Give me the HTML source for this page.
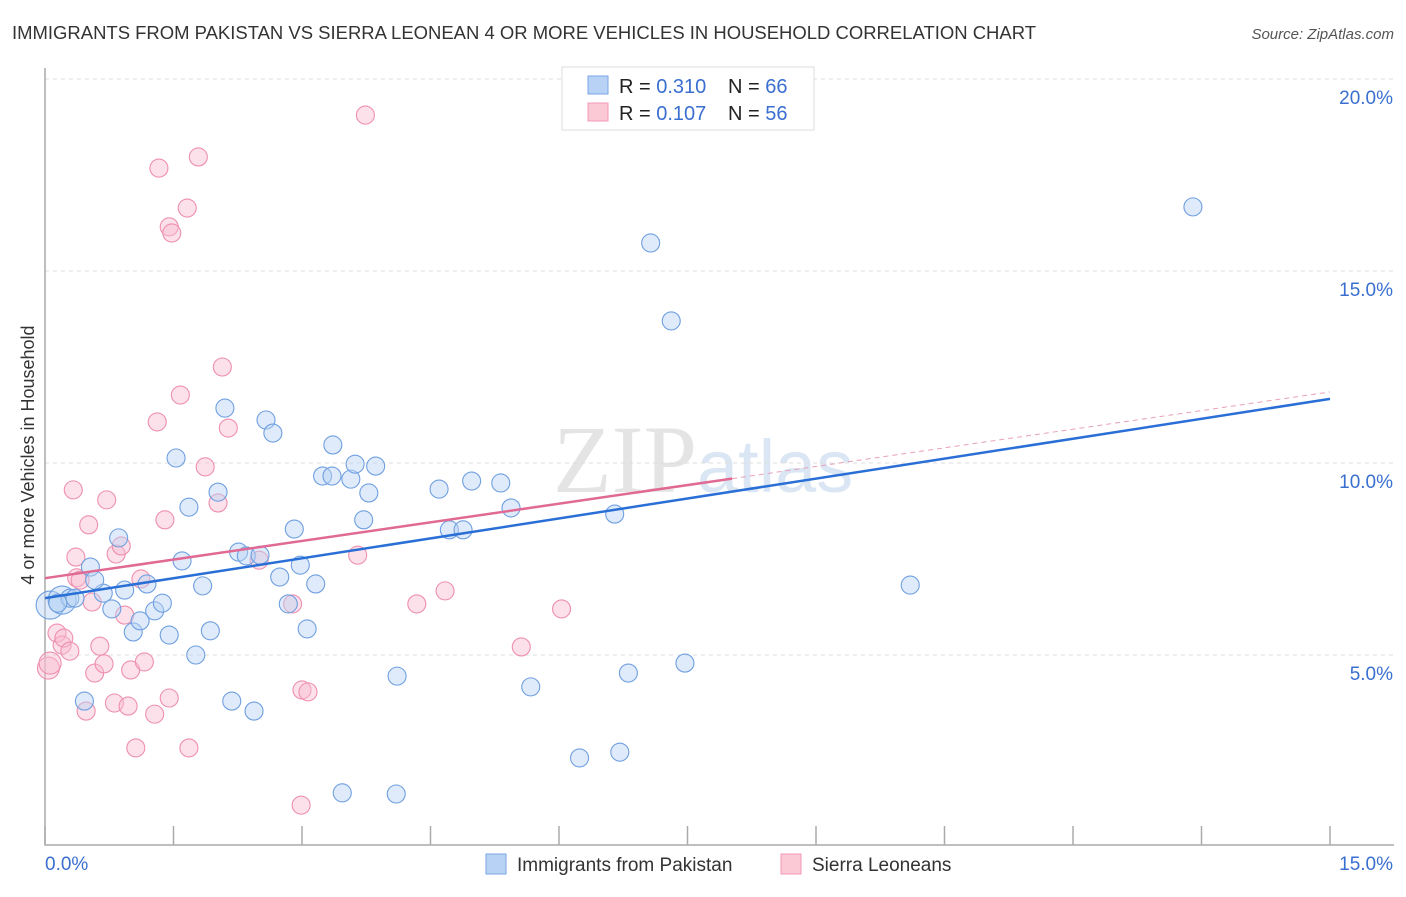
<!DOCTYPE html>
<html><head><meta charset="utf-8"><style>
body{margin:0;background:#fff;font-family:"Liberation Sans",sans-serif}
</style></head><body>
<svg id="chart" width="1406" height="892" xmlns="http://www.w3.org/2000/svg" font-family="Liberation Sans, sans-serif">
<text x="12" y="39" font-size="18" fill="#333" textLength="1024" lengthAdjust="spacingAndGlyphs">IMMIGRANTS FROM PAKISTAN VS SIERRA LEONEAN 4 OR MORE VEHICLES IN HOUSEHOLD CORRELATION CHART</text>
<text x="1394" y="39" font-size="15" fill="#555" text-anchor="end" font-style="italic">Source: ZipAtlas.com</text>
<text x="553" y="492" font-size="96" fill="#e4e4e4" font-family="Liberation Serif, serif">ZIP<tspan fill="#dbe6f4" font-family="Liberation Sans, sans-serif" font-size="74">atlas</tspan></text>
<text transform="translate(34,455) rotate(-90)" font-size="18" fill="#333" text-anchor="middle">4 or more Vehicles in Household</text>
<g id="grid"></g><g id="axes"></g><g id="pts"></g><g id="lines"></g>
<g>
<rect x="562" y="67" width="252" height="63" fill="#fff" stroke="#ddd"/>
<rect x="588" y="76" width="20" height="18" fill="#b8d2f5" stroke="#7aa6e6"/>
<rect x="588" y="103" width="20" height="18" fill="#fbc8d6" stroke="#f09ab5"/>
<text x="619" y="93" font-size="20" fill="#222">R = <tspan fill="#3a6fd0">0.310</tspan></text>
<text x="728" y="93" font-size="20" fill="#222">N = <tspan fill="#3a6fd0">66</tspan></text>
<text x="619" y="120" font-size="20" fill="#222">R = <tspan fill="#3a6fd0">0.107</tspan></text>
<text x="728" y="120" font-size="20" fill="#222">N = <tspan fill="#3a6fd0">56</tspan></text>
</g>
<g>
<rect x="486" y="854" width="20" height="20" fill="#b8d2f5" stroke="#7aa6e6"/>
<text x="517" y="871" font-size="19" fill="#333">Immigrants from Pakistan</text>
<rect x="781" y="854" width="20" height="20" fill="#fbc8d6" stroke="#f09ab5"/>
<text x="812" y="871" font-size="19" fill="#333">Sierra Leoneans</text>
</g>
</svg>
<script>
const xTicks=[0,1.5,3,4.5,6,7.5,9,10.5,12,13.5,15];
const yTicks=[5,10,15,20];
const blueX=[0.06,0.20,0.29,0.46,0.53,0.68,0.78,0.86,0.93,1.03,1.11,1.19,1.28,1.37,1.45,1.53,1.60,1.68,1.76,1.84,1.93,2.02,2.10,2.18,2.26,2.35,2.44,2.51,2.58,2.66,2.74,2.84,2.91,2.98,3.06,3.16,3.24,3.35,3.36,3.47,3.57,3.62,3.72,3.78,3.86,4.10,4.11,4.60,4.72,4.88,4.98,5.32,5.44,5.67,6.24,6.65,6.71,6.81,7.07,7.31,7.47,10.10,13.40,0.35,0.15,0.58];
const blueY=[6.30,6.43,6.48,3.80,7.29,6.61,6.20,8.05,6.69,5.60,5.89,6.85,6.15,6.35,5.52,10.13,7.45,8.85,5.00,6.80,5.63,9.24,11.43,3.80,7.68,7.58,3.54,7.60,11.12,10.78,7.03,6.33,8.28,7.34,5.68,6.85,9.66,9.66,10.47,1.41,9.58,9.97,8.52,9.22,9.92,1.38,4.45,9.32,8.26,8.26,9.53,9.48,8.83,4.17,2.32,8.67,2.47,4.53,15.73,13.70,4.79,6.82,16.67,6.48,6.35,6.95];
const pinkX=[0.04,0.06,0.14,0.20,0.22,0.29,0.33,0.36,0.37,0.41,0.48,0.51,0.55,0.58,0.64,0.69,0.72,0.81,0.83,0.89,0.93,0.97,1.00,1.06,1.12,1.16,1.28,1.31,1.33,1.40,1.45,1.45,1.48,1.58,1.66,1.68,1.79,1.87,2.02,2.07,2.14,2.50,2.89,2.99,3.00,3.07,3.65,3.74,4.34,4.67,5.56,6.03];
const pinkY=[4.66,4.79,5.57,5.26,5.44,5.10,9.30,7.55,7.01,6.95,3.54,8.39,6.38,4.53,5.23,4.77,9.04,3.75,7.63,7.84,6.04,3.67,4.61,2.58,6.98,4.82,3.46,11.07,17.68,8.52,3.88,16.15,15.99,11.77,16.64,2.58,17.97,9.90,8.96,12.50,10.91,7.47,6.33,1.09,4.09,4.04,7.60,19.06,6.33,6.67,5.21,6.20];
const blueTrend=[6.48,11.67];
const pinkTrend=[7.0,11.85];
const pinkSolidEnd=8.02;
const NS='http://www.w3.org/2000/svg';
const X=v=>45+v*(1285/15), Y=v=>847-v*38.4;
function mk(t,a,p){const e=document.createElementNS(NS,t);for(const k in a)e.setAttribute(k,a[k]);p.appendChild(e);return e;}
const grid=document.getElementById('grid'),axes=document.getElementById('axes'),pts=document.getElementById('pts'),lines=document.getElementById('lines');
yTicks.forEach(t=>{const l=mk('line',{x1:45,x2:1394,y1:Y(t),y2:Y(t),stroke:'#ddd','stroke-dasharray':'4,4'},grid);


const tx=mk('text',{x:1393,y:Y(t)+25,'font-size':19,fill:'#3a6fd0','text-anchor':'end'},axes);tx.textContent=t.toFixed(1)+'%';

});
const ax=mk('path',{d:'M45,68 V845 H1394',fill:'none',stroke:'#aaa','stroke-width':1.5},axes);


xTicks.forEach(t=>{const l=mk('line',{x1:X(t),x2:X(t),y1:826,y2:845,stroke:'#aaa','stroke-width':1.5},axes);

});
[[0,'0.0%',45,'start'],[15,'15.0%',1393,'end']].forEach(d=>{const tx=mk('text',{x:d[2],y:870,'font-size':19,fill:'#3a6fd0','text-anchor':d[3]},axes);tx.textContent=d[1];

});
function dots(xs,ys,fill,stroke,name){xs.forEach((v,i)=>{const c=mk('circle',{cx:X(v),cy:Y(ys[i]),r:i<2?(name=='pakistan-point'?14:11):9,fill:fill,'fill-opacity':0.45,stroke:stroke,'stroke-width':1.1},pts);

});}
dots(pinkX,pinkY,'#f8bcd0','#ee8fae','sierra-leonean-point');
dots(blueX,blueY,'#b8d2f5','#6f9fe0','pakistan-point');
const bl=mk('line',{x1:X(0),y1:Y(blueTrend[0]),x2:X(15),y2:Y(blueTrend[1]),stroke:'#2a6fd6','stroke-width':2.5},lines);


const pm=v=>pinkTrend[0]+(pinkTrend[1]-pinkTrend[0])*v/15;
const pl=mk('line',{x1:X(0),y1:Y(pm(0)),x2:X(pinkSolidEnd),y2:Y(pm(pinkSolidEnd)),stroke:'#e06a93','stroke-width':2.5},lines);


const pd=mk('line',{x1:X(pinkSolidEnd),y1:Y(pm(pinkSolidEnd)),x2:X(15),y2:Y(pm(15)),stroke:'#e8a0b8','stroke-width':1,'stroke-dasharray':'5,4'},lines);


</script>
</body></html>
